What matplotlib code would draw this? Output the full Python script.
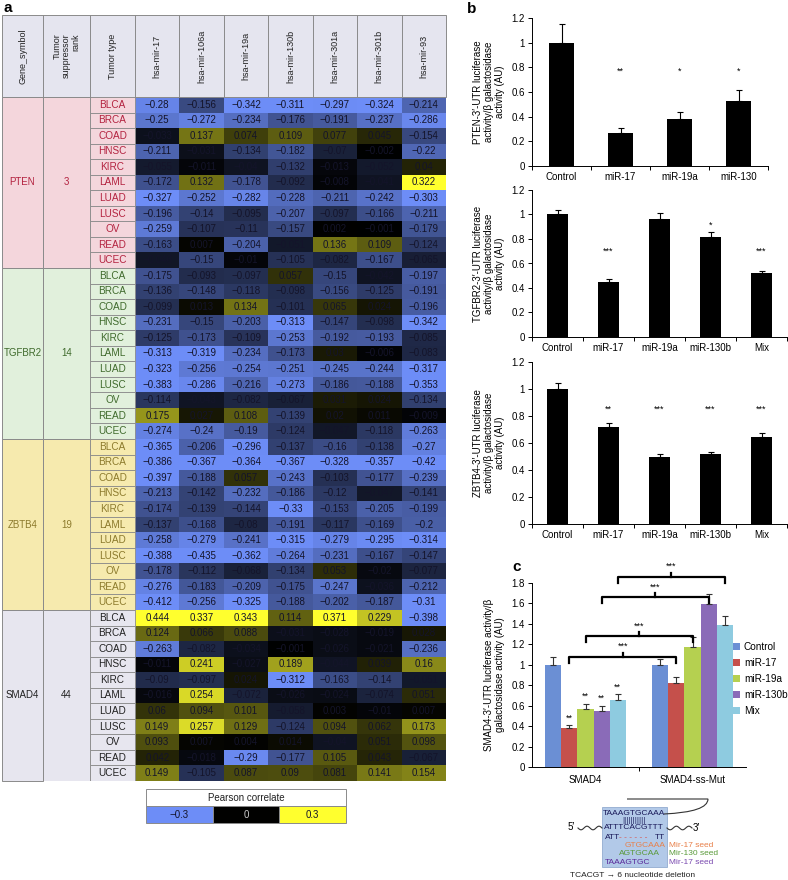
import numpy as np
import matplotlib
matplotlib.use('Agg')
import matplotlib.pyplot as plt
from matplotlib.colors import LinearSegmentedColormap, Normalize
from matplotlib.patches import Rectangle, PathPatch
from matplotlib.path import Path

plt.rcParams['font.family'] = ['Liberation Sans', 'DejaVu Sans']

# ---------------- data: panel a ----------------
genes = ['PTEN', 'TGFBR2', 'ZBTB4', 'SMAD4']
ranks = ['3', '14', '19', '44']
tumors = ['BLCA', 'BRCA', 'COAD', 'HNSC', 'KIRC', 'LAML', 'LUAD', 'LUSC', 'OV', 'READ', 'UCEC']
mirs = ['hsa-mir-17', 'hsa-mir-106a', 'hsa-mir-19a', 'hsa-mir-130b',
        'hsa-mir-301a', 'hsa-mir-301b', 'hsa-mir-93']

pten = [[-0.28, -0.156, -0.342, -0.311, -0.297, -0.324, -0.214],
        [-0.25, -0.272, -0.234, -0.176, -0.191, -0.237, -0.286],
        [-0.033, 0.137, 0.074, 0.109, 0.077, 0.045, -0.154],
        [-0.211, -0.031, -0.134, -0.182, -0.07, -0.002, -0.22],
        [-0.055, -0.011, -0.04, -0.132, -0.013, -0.052, 0.04],
        [-0.172, 0.132, -0.178, -0.092, -0.008, -0.041, 0.322],
        [-0.327, -0.252, -0.282, -0.228, -0.211, -0.242, -0.303],
        [-0.196, -0.14, -0.095, -0.207, -0.097, -0.166, -0.211],
        [-0.259, -0.107, -0.11, -0.157, 0.002, -0.001, -0.179],
        [-0.163, 0.007, -0.204, -0.051, 0.136, 0.109, -0.124],
        [-0.046, -0.15, -0.01, -0.105, -0.082, -0.167, -0.065]]
tgfbr2 = [[-0.175, -0.093, -0.097, 0.057, -0.15, -0.042, -0.197],
          [-0.136, -0.148, -0.118, -0.098, -0.156, -0.125, -0.191],
          [-0.099, 0.013, 0.134, -0.101, 0.065, 0.024, -0.196],
          [-0.231, -0.15, -0.203, -0.313, -0.147, -0.098, -0.342],
          [-0.125, -0.173, -0.109, -0.253, -0.192, -0.193, -0.085],
          [-0.313, -0.319, -0.234, -0.173, 0.03, -0.006, -0.083],
          [-0.323, -0.256, -0.254, -0.251, -0.245, -0.244, -0.317],
          [-0.383, -0.286, -0.216, -0.273, -0.186, -0.188, -0.353],
          [-0.114, -0.043, -0.082, -0.067, 0.031, 0.024, -0.134],
          [0.175, 0.027, 0.108, -0.139, 0.02, 0.011, -0.009],
          [-0.274, -0.24, -0.19, -0.124, -0.047, -0.118, -0.263]]
zbtb4 = [[-0.365, -0.206, -0.296, -0.137, -0.16, -0.138, -0.27],
         [-0.386, -0.367, -0.364, -0.367, -0.328, -0.357, -0.42],
         [-0.397, -0.188, 0.057, -0.243, -0.103, -0.177, -0.239],
         [-0.213, -0.142, -0.232, -0.186, -0.12, -0.047, -0.141],
         [-0.174, -0.139, -0.144, -0.33, -0.153, -0.205, -0.199],
         [-0.137, -0.168, -0.08, -0.191, -0.117, -0.169, -0.2],
         [-0.258, -0.279, -0.241, -0.315, -0.279, -0.295, -0.314],
         [-0.388, -0.435, -0.362, -0.264, -0.231, -0.167, -0.147],
         [-0.178, -0.112, -0.068, -0.134, 0.053, -0.02, -0.077],
         [-0.276, -0.183, -0.209, -0.175, -0.247, -0.036, -0.212],
         [-0.412, -0.256, -0.325, -0.188, -0.202, -0.187, -0.31]]
smad4 = [[0.444, 0.337, 0.343, 0.114, 0.371, 0.229, -0.398],
         [0.124, 0.066, 0.088, -0.031, -0.028, -0.019, 0.028],
         [-0.263, -0.082, -0.034, -0.001, -0.026, -0.021, -0.236],
         [-0.011, 0.241, -0.027, 0.189, -0.044, 0.039, 0.16],
         [-0.09, -0.097, 0.024, -0.312, -0.163, -0.14, -0.051],
         [-0.016, 0.254, -0.072, -0.026, -0.024, -0.074, 0.051],
         [0.06, 0.094, 0.101, -0.058, 0.003, -0.01, 0.007],
         [0.149, 0.257, 0.129, -0.124, 0.094, 0.062, 0.173],
         [0.093, 0.007, 0.004, 0.014, -0.04, 0.051, 0.098],
         [0.042, -0.018, -0.29, -0.177, 0.105, 0.043, -0.067],
         [0.149, -0.105, 0.087, 0.09, 0.081, 0.141, 0.154]]

# ---------------- data: panel b ----------------
b1_labels = ['Control', 'miR-17', 'miR-19a', 'miR-130']
b1_vals = [1.0, 0.27, 0.38, 0.53]
b1_err = [0.15, 0.04, 0.06, 0.09]
b1_stars = ['', '**', '*', '*']

b23_labels = ['Control', 'miR-17', 'miR-19a', 'miR-130b', 'Mix']
b2_vals = [1.0, 0.45, 0.96, 0.82, 0.52]
b2_err = [0.035, 0.02, 0.055, 0.04, 0.02]
b2_stars = ['', '***', '', '*', '***']
b3_vals = [1.0, 0.715, 0.50, 0.52, 0.645]
b3_err = [0.045, 0.03, 0.02, 0.015, 0.03]
b3_stars = ['', '**', '***', '***', '***']

# ---------------- data: panel c ----------------
c_groups = ['SMAD4', 'SMAD4-ss-Mut']
c_series = ['Control', 'miR-17', 'miR-19a', 'miR-130b', 'Mix']
c_wt = [1.0, 0.38, 0.57, 0.55, 0.66]
c_wt_err = [0.075, 0.03, 0.05, 0.05, 0.055]
c_wt_stars = ['', '**', '**', '**', '**']
c_mut = [1.0, 0.82, 1.17, 1.59, 1.39]
c_mut_err = [0.06, 0.065, 0.1, 0.1, 0.09]

W, H = 788, 880
fig = plt.figure(figsize=(W / 100, H / 100), dpi=100)


def fax(l, t, r, b):
    return fig.add_axes([l / W, 1 - b / H, (r - l) / W, (b - t) / H])


def fmt(v):
    return ('%g' % v).replace('-', '\u2212')


# ================= panel a : heatmap table =================
cmap = LinearSegmentedColormap.from_list('pearson', ['#6d8df7', '#000000', '#ffff2e'])
norm = Normalize(-0.3, 0.3)
line_c = '#8a8a8a'
grp_bg = ['#f4d6dc', '#e1f0dc', '#f6eaae', '#e7e6ef']
grp_fg = ['#b3223f', '#3f6a2c', '#8c7a2c', '#222222']

ax = fax(2, 15, 446, 781)
dw = (444 - 133) / 7
col_edges = np.concatenate([[0, 41, 88], 133 + np.arange(8) * dw])
head_h = 82
row_h = (766 - head_h) / 44
row_edges = head_h + np.arange(45) * row_h
vals = np.vstack([pten, tgfbr2, zbtb4, smad4])

ax.pcolormesh(col_edges[3:], row_edges, vals, cmap=cmap, norm=norm)
for i in range(vals.shape[0]):
    for j in range(vals.shape[1]):
        ax.text((col_edges[3 + j] + col_edges[4 + j]) / 2, (row_edges[i] + row_edges[i + 1]) / 2,
                fmt(vals[i, j]), ha='center', va='center', fontsize=7, color='#14142a')

# header
ax.add_patch(Rectangle((0, 0), col_edges[-1], head_h, fc='#e5e5ef', ec=line_c, lw=0.7,
                       clip_on=False))
headers = ['Gene_symbol', 'Tumor\nsuppressor\nrank', 'Tumor type'] + mirs
for k, h in enumerate(headers):
    if k > 0:
        ax.plot([col_edges[k], col_edges[k]], [0, head_h], color=line_c, lw=0.7)
    ax.text((col_edges[k] + col_edges[k + 1]) / 2, head_h / 2, h, rotation=90,
            ha='center', va='center', fontsize=6.5, color='#222222', linespacing=1.0,
            multialignment='right' if k == 1 else 'center')

# gene blocks
for g in range(4):
    y0, y1 = row_edges[g * 11], row_edges[(g + 1) * 11]
    ax.add_patch(Rectangle((0, y0), 41, y1 - y0, fc=grp_bg[g], ec=line_c, lw=0.7, clip_on=False))
    ax.add_patch(Rectangle((41, y0), 47, y1 - y0, fc=grp_bg[g], ec=line_c, lw=0.7))
    ax.text(20.5, (y0 + y1) / 2, genes[g], ha='center', va='center', fontsize=7, color=grp_fg[g])
    ax.text(64.5, (y0 + y1) / 2, ranks[g], ha='center', va='center', fontsize=7, color=grp_fg[g])
    for t, tt in enumerate(tumors):
        r = g * 11 + t
        ax.add_patch(Rectangle((88, row_edges[r]), 45, row_h, fc=grp_bg[g], ec=line_c, lw=0.6))
        ax.text(110.5, row_edges[r] + row_h / 2, tt, ha='center', va='center',
                fontsize=7.2, color=grp_fg[g])
ax.set_xlim(0, col_edges[-1])
ax.set_ylim(766, 0)
ax.axis('off')

# colour legend
axl = fax(146, 789, 346, 823)
axl.add_patch(Rectangle((0, 1), 3, 1, fc='white', ec=line_c, lw=0.7, clip_on=False))
axl.text(1.5, 1.5, 'Pearson correlate', ha='center', va='center', fontsize=7, color='#222222')
for k, v in enumerate([-0.3, 0.0, 0.3]):
    axl.add_patch(Rectangle((k, 0), 1, 1, fc=cmap(norm(v)), ec=line_c, lw=0.7, clip_on=False))
    axl.text(k + 0.5, 0.5, fmt(v) if v != 0 else '0', ha='center', va='center', fontsize=7,
             color='#cccccc' if v == 0 else '#14142a')
axl.set_xlim(0, 3)
axl.set_ylim(0, 2)
axl.axis('off')


# ================= panel b : bar charts =================
def style_bar_ax(a, labels, ymax, ylabel):
    n = len(labels)
    a.set_xlim(-0.5, n - 0.5)
    a.set_ylim(0, ymax)
    a.set_yticks(np.arange(0, ymax + 0.01, 0.2))
    a.set_yticklabels(['%g' % round(t, 1) for t in np.arange(0, ymax + 0.01, 0.2)])
    a.set_xticks(np.arange(n))
    a.set_xticklabels(labels)
    a.set_xticks(np.arange(n + 1) - 0.5, minor=True)
    a.tick_params(axis='x', which='major', length=0, labelsize=7, pad=4)
    a.tick_params(axis='x', which='minor', length=3, width=0.7)
    a.tick_params(axis='y', length=3, width=0.7, labelsize=7, pad=2)
    for s in ['top', 'right']:
        a.spines[s].set_visible(False)
    for s in ['left', 'bottom']:
        a.spines[s].set_linewidth(0.7)
    a.set_ylabel(ylabel, fontsize=7, linespacing=1.1, labelpad=5)


def bar_panel(a, labels, v, e, stars, star_y, width):
    x = np.arange(len(labels))
    a.bar(x, v, width=width, color='black', yerr=[np.zeros(len(v)), e],
          error_kw=dict(ecolor='black', elinewidth=0.8, capsize=2.5, capthick=0.8))
    for xi, s, sy in zip(x, stars, star_y):
        if s:
            a.text(xi, sy, s, ha='center', va='center', fontsize=6.5)


ax_b1 = fax(532, 18, 768, 166)
bar_panel(ax_b1, b1_labels, b1_vals, b1_err, b1_stars, [0.77] * 4, 0.42)
style_bar_ax(ax_b1, b1_labels, 1.2,
             "PTEN-3\u2032-UTR luciferase\nactivity/\u03b2 galactosidase\nactivity (AU)")

ax_b2 = fax(532, 190, 787, 337)
bar_panel(ax_b2, b23_labels, b2_vals, b2_err, b2_stars, [0, 0.7, 0, 0.91, 0.7], 0.4)
style_bar_ax(ax_b2, b23_labels, 1.2,
             "TGFBR2-3\u2032-UTR luciferase\nactivity/\u03b2 galactosidase\nactivity (AU)")

ax_b3 = fax(532, 362, 787, 524)
bar_panel(ax_b3, b23_labels, b3_vals, b3_err, b3_stars, [0.85] * 5, 0.4)
style_bar_ax(ax_b3, b23_labels, 1.2,
             "ZBTB4-3\u2032-UTR luciferase\nactivity/\u03b2 galactosidase\nactivity (AU)")

# ================= panel c : grouped bars =================
c_colors = ['#6b8fd4', '#c5504b', '#b5d050', '#8a6bb8', '#8ecbe0']
ax_c = fax(532, 583, 746, 767)
bw = 0.15
for i, name in enumerate(c_series):
    xs = np.arange(2) + (i - 2) * bw
    ax_c.bar(xs, [c_wt[i], c_mut[i]], width=bw, color=c_colors[i], label=name,
             yerr=[[0, 0], [c_wt_err[i], c_mut_err[i]]],
             error_kw=dict(ecolor='#333333', elinewidth=0.8, capsize=2, capthick=0.8))
    if c_wt_stars[i]:
        ax_c.text(xs[0], c_wt[i] + c_wt_err[i] + 0.07, c_wt_stars[i], ha='center',
                  va='center', fontsize=6.5)

# significance brackets between matching bars of the two groups
br_y = [1.08, 1.28, 1.66, 1.86]
for k, i in enumerate([1, 2, 3, 4]):
    xl = 0 + (i - 2) * bw
    xr = 1 + (i - 2) * bw
    y = br_y[k]
    xm = (xl + xr) / 2
    ax_c.plot([xl, xl, xr, xr], [y - 0.06, y, y, y - 0.06], color='black', lw=1.6,
              clip_on=False, solid_joinstyle='round')
    ax_c.plot([xm, xm], [y, y + 0.04], color='black', lw=1.6, clip_on=False)
    ax_c.text(xm, y + 0.1, '***', ha='center', va='center', fontsize=6.5, clip_on=False)

ax_c.set_xlim(-0.5, 1.5)
ax_c.set_ylim(0, 1.8)
yt = np.arange(0, 1.81, 0.2)
ax_c.set_yticks(yt)
ax_c.set_yticklabels(['%g' % round(t, 1) for t in yt])
ax_c.set_xticks([0, 1])
ax_c.set_xticklabels(c_groups)
ax_c.set_xticks([0.5], minor=True)
ax_c.tick_params(axis='x', which='major', length=0, labelsize=7, pad=6)
ax_c.tick_params(axis='x', which='minor', length=3, width=0.7)
ax_c.tick_params(axis='y', length=3, width=0.7, labelsize=7, pad=2)
for s in ['top', 'right']:
    ax_c.spines[s].set_visible(False)
for s in ['left', 'bottom']:
    ax_c.spines[s].set_linewidth(0.7)
ax_c.set_ylabel("SMAD4-3\u2032-UTR luciferase activity/\u03b2\ngalactosidase activity (AU)",
                fontsize=7, linespacing=1.1, labelpad=5)
ax_c.legend(loc='upper left', bbox_to_anchor=(733 / W, 1 - 642 / H),
            bbox_transform=fig.transFigure, frameon=False, fontsize=7.2,
            handlelength=0.7, handleheight=0.7, handletextpad=0.4, labelspacing=0.6,
            borderaxespad=0, borderpad=0)

# ================= schematic under panel c =================
ax_s = fax(555, 795, 720, 880)
ax_s.set_xlim(555, 720)
ax_s.set_ylim(880, 795)
ax_s.axis('off')
ax_s.add_patch(Rectangle((602, 807), 65, 60, fc='#aac3e6', ec='#8aa6cc', lw=0.6, alpha=0.9))
wx = np.linspace(578, 602, 60)
ax_s.plot(wx, 828 + 1.8 * np.sin((wx - 578) / 24 * 4 * np.pi), color='#333333', lw=0.8)
wx2 = np.linspace(667, 692, 60)
ax_s.plot(wx2, 828 + 1.8 * np.sin((wx2 - 667) / 25 * 4 * np.pi), color='#333333', lw=0.8)
ax_s.text(575, 827, "5\u2032", ha='right', va='center', fontsize=7)
ax_s.text(693, 828, "3\u2032", ha='left', va='center', fontsize=7)
hp = Path([(664, 814), (708, 812), (708, 799), (686, 799), (627, 799)],
          [Path.MOVETO, Path.CURVE3, Path.CURVE3, Path.LINETO, Path.LINETO])
ax_s.add_patch(PathPatch(hp, fc='none', ec='#333333', lw=0.8))
seq_kw = dict(fontsize=6, family=['Liberation Sans Narrow', 'Liberation Sans', 'DejaVu Sans'])
ax_s.text(634, 813, 'TAAAGTGCAAA', ha='center', va='center', color='#1a1a5a', **seq_kw)
ax_s.text(634, 820.5, '|||||||||||', ha='center', va='center', color='#1a1a5a', **seq_kw)
ax_s.text(634, 827, 'ATTTCACGTTT', ha='center', va='center', color='#1a1a5a', **seq_kw)
ax_s.text(605, 837, 'ATT', ha='left', va='center', color='#1a1a5a', **seq_kw)
ax_s.text(619, 837, '- - - - - -', ha='left', va='center', color='#d9534f', **seq_kw)
ax_s.text(665, 837, 'TT', ha='right', va='center', color='#1a1a5a', **seq_kw)
ax_s.text(666, 845, 'GTGCAAA', ha='right', va='center', color='#e8804a', **seq_kw)
ax_s.text(660, 853.5, 'AGTGCAA', ha='right', va='center', color='#5a9a3a', **seq_kw)
ax_s.text(605, 862, 'TAAAGTGC', ha='left', va='center', color='#5a2a9a', **seq_kw)
ax_s.text(669, 845, 'Mir-17 seed', ha='left', va='center', color='#e8804a', fontsize=6)
ax_s.text(669, 853.5, 'Mir-130 seed', ha='left', va='center', color='#5a9a3a', fontsize=6)
ax_s.text(669, 862, 'Mir-17 seed', ha='left', va='center', color='#7a4ab0', fontsize=6)
ax_s.text(570, 875, 'TCACGT \u2192 6 nucleotide deletion', ha='left', va='center',
          fontsize=6, color='#222222')

# panel letters
fig.text(3 / W, 1 - 8 / H, 'a', fontsize=11, fontweight='bold', va='center')
fig.text(467 / W, 1 - 9 / H, 'b', fontsize=11, fontweight='bold', va='center')
fig.text(512 / W, 1 - 567 / H, 'c', fontsize=11, fontweight='bold', va='center')

fig.savefig('out.png', dpi=100)
